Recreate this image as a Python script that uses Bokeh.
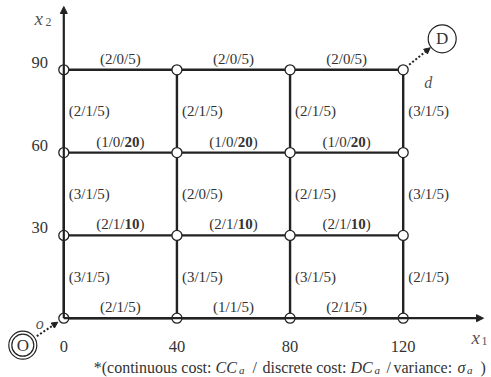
from bokeh.plotting import figure
from bokeh.models import Arrow, NormalHead, Range1d
from bokeh.core.properties import value
from bokeh.embed import file_html
from bokeh.resources import INLINE

# ---------------- data ----------------
x_nodes = [0, 40, 80, 120]
y_nodes = [0, 30, 60, 90]
x_tick_values = [0, 40, 80, 120]
x_tick_labels = ["0", "40", "80", "120"]
y_tick_values = [30, 60, 90]
y_tick_labels = ["30", "60", "90"]

# horizontal edges: from (h_x0, h_y) to (h_x0 + 40, h_y)
h_x0 = [0, 40, 80, 0, 40, 80, 0, 40, 80, 0, 40, 80]
h_y = [0, 0, 0, 30, 30, 30, 60, 60, 60, 90, 90, 90]
h_cc = [2, 1, 2, 2, 2, 2, 1, 1, 1, 2, 2, 2]
h_dc = [1, 1, 1, 1, 1, 1, 0, 0, 0, 0, 0, 0]
h_var = [5, 5, 5, 10, 10, 10, 20, 20, 20, 5, 5, 5]

# vertical edges: from (v_x, v_y0) to (v_x, v_y0 + 30)
v_x = [0, 40, 80, 120, 0, 40, 80, 120, 0, 40, 80, 120]
v_y0 = [0, 0, 0, 0, 30, 30, 30, 30, 60, 60, 60, 60]
v_cc = [3, 3, 3, 2, 3, 2, 2, 3, 2, 2, 2, 3]
v_dc = [1, 1, 1, 1, 1, 0, 1, 1, 1, 1, 1, 1]
v_var = [5, 5, 5, 5, 5, 5, 5, 5, 5, 5, 5, 5]

STEP_X = 40
STEP_Y = 30

# ---------------- layout / scale ----------------
W, H = 491, 377
X0, Y0 = 63.3, 317.7      # pixel of data origin
SX, SY = 2.8283, 2.76     # pixels per data unit


def X(px):
    return (px - X0) / SX


def Y(py):
    return (Y0 - py) / SY


def dX(px):
    return px / SX


def dY(px):
    return -px / SY


LINE = "#222222"
TXT = "#333333"
SERIF = value("Liberation Serif")

p = figure(width=W, height=H, toolbar_location=None, output_backend="svg",
           x_range=Range1d(X(0), X(W)), y_range=Range1d(Y(H), Y(0)),
           x_axis_type=None, y_axis_type=None, min_border=0,
           outline_line_color=None, background_fill_color="white",
           border_fill_color="white")

# ---------------- axes with arrows ----------------
p.add_layout(Arrow(x_start=0, y_start=0, x_end=0, y_end=Y(6),
                   line_color=LINE, line_width=2.2,
                   end=NormalHead(size=7, fill_color=LINE, line_color=LINE, line_width=1)))
p.add_layout(Arrow(x_start=0, y_start=0, x_end=X(483), y_end=0,
                   line_color=LINE, line_width=2.2,
                   end=NormalHead(size=7, fill_color=LINE, line_color=LINE, line_width=1)))

# ---------------- grid edges ----------------
p.segment(x0=h_x0, y0=h_y, x1=[x + STEP_X for x in h_x0], y1=h_y,
          line_color=LINE, line_width=2.4)
p.segment(x0=v_x, y0=v_y0, x1=v_x, y1=[y + STEP_Y for y in v_y0],
          line_color=LINE, line_width=2.4)

# ---------------- nodes ----------------
nx = [x for y in y_nodes for x in x_nodes]
ny = [y for y in y_nodes for x in x_nodes]
p.scatter(nx, ny, marker="circle", size=10, fill_color="white",
          line_color=LINE, line_width=1.3)

# ---------------- edge labels ----------------
EM = {'0': .5, '1': .5, '2': .5, '3': .5, '4': .5, '5': .5, '6': .5, '7': .5,
      '8': .5, '9': .5, '(': .333, ')': .333, '/': .278}
LFS = 15
LFS_S = "15px"


def tw(s, fs=LFS):
    return sum(EM.get(c, .5) for c in s) * fs


norm_x, norm_y, norm_t = [], [], []
bold_x, bold_y, bold_t = [], [], []


def add_label(xd, yd, cc, dc, var, align):
    pre = "(%d/%d/" % (cc, dc)
    mid = "%d" % var
    suf = ")"
    total = tw(pre) + tw(mid) + tw(suf)
    if align == "center":
        start = xd - dX(total / 2)
    else:
        start = xd + dX(5)
    norm_x.append(start); norm_y.append(yd); norm_t.append(pre)
    xm = start + dX(tw(pre))
    if var > 5:
        bold_x.append(xm); bold_y.append(yd); bold_t.append(mid)
    else:
        norm_x.append(xm); norm_y.append(yd); norm_t.append(mid)
    norm_x.append(xm + dX(tw(mid))); norm_y.append(yd); norm_t.append(suf)


for x0, y, cc, dc, var in zip(h_x0, h_y, h_cc, h_dc, h_var):
    add_label(x0 + STEP_X / 2, y + dY(-11), cc, dc, var, "center")
for x, y0, cc, dc, var in zip(v_x, v_y0, v_cc, v_dc, v_var):
    add_label(x, y0 + STEP_Y / 2, cc, dc, var, "left")

p.text(norm_x, norm_y, text=norm_t, text_font=SERIF, text_font_size=LFS_S,
       text_color=TXT, text_align="left", text_baseline="middle")
p.text(bold_x, bold_y, text=bold_t, text_font=SERIF, text_font_size=LFS_S,
       text_font_style="bold", text_color=TXT, text_align="left",
       text_baseline="middle")

# ---------------- tick labels ----------------
p.text(x_tick_values, [Y(345.5)] * len(x_tick_values), text=x_tick_labels,
       text_font=SERIF, text_font_size="16.5px", text_color=TXT,
       text_align="center", text_baseline="alphabetic")
p.text([X(47.5)] * len(y_tick_values), [v + dY(-7.5) for v in y_tick_values],
       text=y_tick_labels, text_font=SERIF, text_font_size="16.5px",
       text_color=TXT, text_align="right", text_baseline="alphabetic")

# axis titles
p.text([X(34)], [Y(18)], text=["x"], text_font=SERIF, text_font_size="19px",
       text_font_style="italic", text_color="#555555", text_baseline="alphabetic")
p.text([X(45)], [Y(21.5)], text=["2"], text_font=SERIF, text_font_size="12px",
       text_color="#555555", text_baseline="alphabetic")
p.text([X(471)], [Y(337)], text=["x"], text_font=SERIF, text_font_size="19px",
       text_font_style="italic", text_color="#555555", text_baseline="alphabetic")
p.text([X(481)], [Y(340.5)], text=["1"], text_font=SERIF, text_font_size="12px",
       text_color="#555555", text_baseline="alphabetic")

# ---------------- origin O and destination D ----------------
o_x, o_y = x_nodes[0], y_nodes[0]
d_x, d_y = x_nodes[-1], y_nodes[-1]

p.scatter([o_x + dX(-41)], [o_y + dY(27)], marker="circle", size=28,
          fill_color="white", line_color=LINE, line_width=1.2)
p.scatter([o_x + dX(-41)], [o_y + dY(27)], marker="circle", size=22,
          fill_color="white", line_color=LINE, line_width=1.2)
p.text([o_x + dX(-41)], [o_y + dY(27)], text=["O"], text_font=SERIF,
       text_font_size="17px", text_color=TXT, text_align="center",
       text_baseline="middle")
p.scatter([d_x + dX(39)], [d_y + dY(-31)], marker="circle", size=28,
          fill_color="white", line_color=LINE, line_width=1.2)
p.text([d_x + dX(39)], [d_y + dY(-31)], text=["D"], text_font=SERIF,
       text_font_size="17px", text_color=TXT, text_align="center",
       text_baseline="middle")

p.add_layout(Arrow(x_start=o_x + dX(-27), y_start=o_y + dY(18),
                   x_end=o_x + dX(-6), y_end=o_y + dY(4),
                   line_color=LINE, line_width=2, line_dash="2 2",
                   end=NormalHead(size=6, fill_color=LINE, line_color=LINE, line_width=1)))
p.add_layout(Arrow(x_start=d_x + dX(6), y_start=d_y + dY(-5),
                   x_end=d_x + dX(27), y_end=d_y + dY(-22),
                   line_color=LINE, line_width=2, line_dash="2 2",
                   end=NormalHead(size=6, fill_color=LINE, line_color=LINE, line_width=1)))

p.text([o_x + dX(-28)], [o_y + dY(5)], text=["o"], text_font=SERIF,
       text_font_size="16px", text_font_style="italic", text_color="#555555",
       text_baseline="alphabetic")
p.text([d_x + dX(21)], [d_y + dY(13)], text=["d"], text_font=SERIF,
       text_font_size="16px", text_font_style="italic", text_color="#555555",
       text_baseline="alphabetic")

# ---------------- footnote ----------------
BASE = 366.5
SUB = 369.5
foot = [
    ("*(continuous cost:", 211, "normal", "16px", BASE, "right"),
    ("CC", 215, "italic", "16px", BASE, "left"),
    ("a", 238.5, "italic", "11px", SUB, "left"),
    ("/", 252, "normal", "16px", BASE, "left"),
    ("discrete cost:", 262, "normal", "16px", BASE, "left"),
    ("DC", 350, "italic", "16px", BASE, "left"),
    ("a", 374, "italic", "11px", SUB, "left"),
    ("/", 386, "normal", "16px", BASE, "left"),
    ("variance:", 393, "normal", "16px", BASE, "left"),
    ("\u03c3", 457, "italic", "16px", BASE, "left"),
    ("a", 466.5, "italic", "11px", SUB, "left"),
    (")", 480, "normal", "16px", BASE, "left"),
]
for t, px, st, fs, by, al in foot:
    p.text([X(px)], [Y(by)], text=[t], text_font=SERIF, text_font_size=fs,
           text_font_style=st, text_color=TXT, text_align=al,
           text_baseline="alphabetic")

open("out.html", "w").write(file_html(p, INLINE))
